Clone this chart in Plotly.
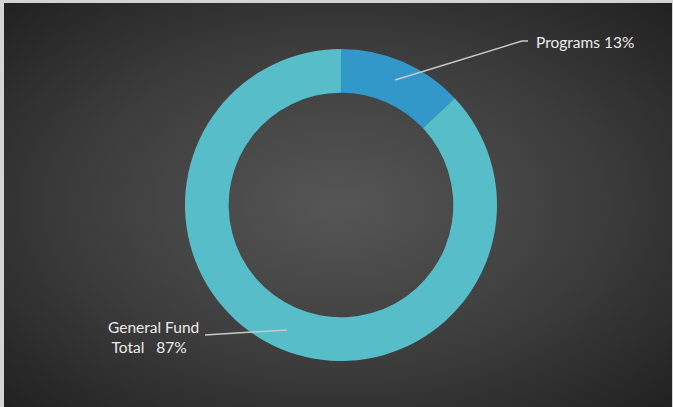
import math
import base64
import plotly.graph_objects as go

# Budget split
labels = ["Programs", "General Fund Total"]
values = [13, 87]
label_text = ["Programs 13%", "General Fund<br> Total   87%"]
colors = ["#3198C9", "#56BDC9"]

W, H = 673, 407
cx, cy, r_out = 341, 205, 156   # donut centre / outer radius in pixels
hole = 0.72

# dark slide background with a soft radial glow
svg = f"""<svg xmlns='http://www.w3.org/2000/svg' width='{W}' height='{H}' viewBox='0 0 {W} {H}' preserveAspectRatio='none'>
<defs><radialGradient id='g' cx='50%' cy='50%' r='72%'>
<stop offset='0%' stop-color='#565656'/><stop offset='55%' stop-color='#3c3c3c'/><stop offset='100%' stop-color='#202020'/>
</radialGradient></defs><rect width='100%' height='100%' fill='url(#g)'/></svg>"""
bg_src = "data:image/svg+xml;base64," + base64.b64encode(svg.encode()).decode()

fig = go.Figure(go.Pie(
    labels=labels,
    values=values,
    hole=hole,
    sort=False,
    direction="clockwise",
    rotation=0,
    textinfo="none",
    marker=dict(colors=colors, line=dict(width=0)),
    domain=dict(x=[(cx - r_out) / W, (cx + r_out) / W],
                y=[(H - cy - r_out) / H, (H - cy + r_out) / H]),
    showlegend=False,
    hoverinfo="label+percent",
))

def px_to_paper(x, y):
    return x / W, 1 - y / H

# leader-line anchors sit in the middle of each slice's band
total = sum(values)
r_mid = r_out * (1 + hole) / 2 + 2
anchors = []
acc = 0
for v in values:
    mid = (acc + v / 2) / total * 2 * math.pi
    anchors.append((cx + r_mid * math.sin(mid), cy - r_mid * math.cos(mid)))
    acc += v

line_style = dict(color="#c9c9c9", width=1.5)
shapes = []
# Programs: diagonal then short horizontal tail
ax, ay = anchors[0]
x1, y1 = px_to_paper(ax, ay)
x2, y2 = px_to_paper(522, 41)
x3, y3 = px_to_paper(528, 41)
shapes.append(dict(type="path", xref="paper", yref="paper",
                   path=f"M {x1} {y1} L {x2} {y2} L {x3} {y3}", line=line_style))
# General Fund: nearly horizontal line to the left
ax, ay = anchors[1]
x1, y1 = px_to_paper(ax, ay)
x2, y2 = px_to_paper(205, 335)
shapes.append(dict(type="line", xref="paper", yref="paper",
                   x0=x1, y0=y1, x1=x2, y1=y2, line=line_style))

font = dict(family="Lato, 'Open Sans', sans-serif", size=15.5, color="#ececec")
annotations = [
    dict(text=label_text[0], xref="paper", yref="paper",
         x=534 / W, y=1 - 42 / H, xanchor="left", yanchor="middle",
         showarrow=False, font=font),
    dict(text=label_text[1], xref="paper", yref="paper",
         x=106 / W, y=1 - 337 / H, xanchor="left", yanchor="middle",
         align="left", showarrow=False, font=font),
]

fig.update_layout(
    width=W, height=H,
    margin=dict(l=0, r=0, t=0, b=0),
    paper_bgcolor="#d4d4d4",
    plot_bgcolor="rgba(0,0,0,0)",
    images=[dict(source=bg_src, xref="paper", yref="paper",
                 x=4 / W, y=1 - 3 / H, sizex=(W - 5) / W, sizey=(H - 3) / H,
                 xanchor="left", yanchor="top", sizing="stretch", layer="below")],
    shapes=shapes,
    annotations=annotations,
)

fig.write_html("out.html")
